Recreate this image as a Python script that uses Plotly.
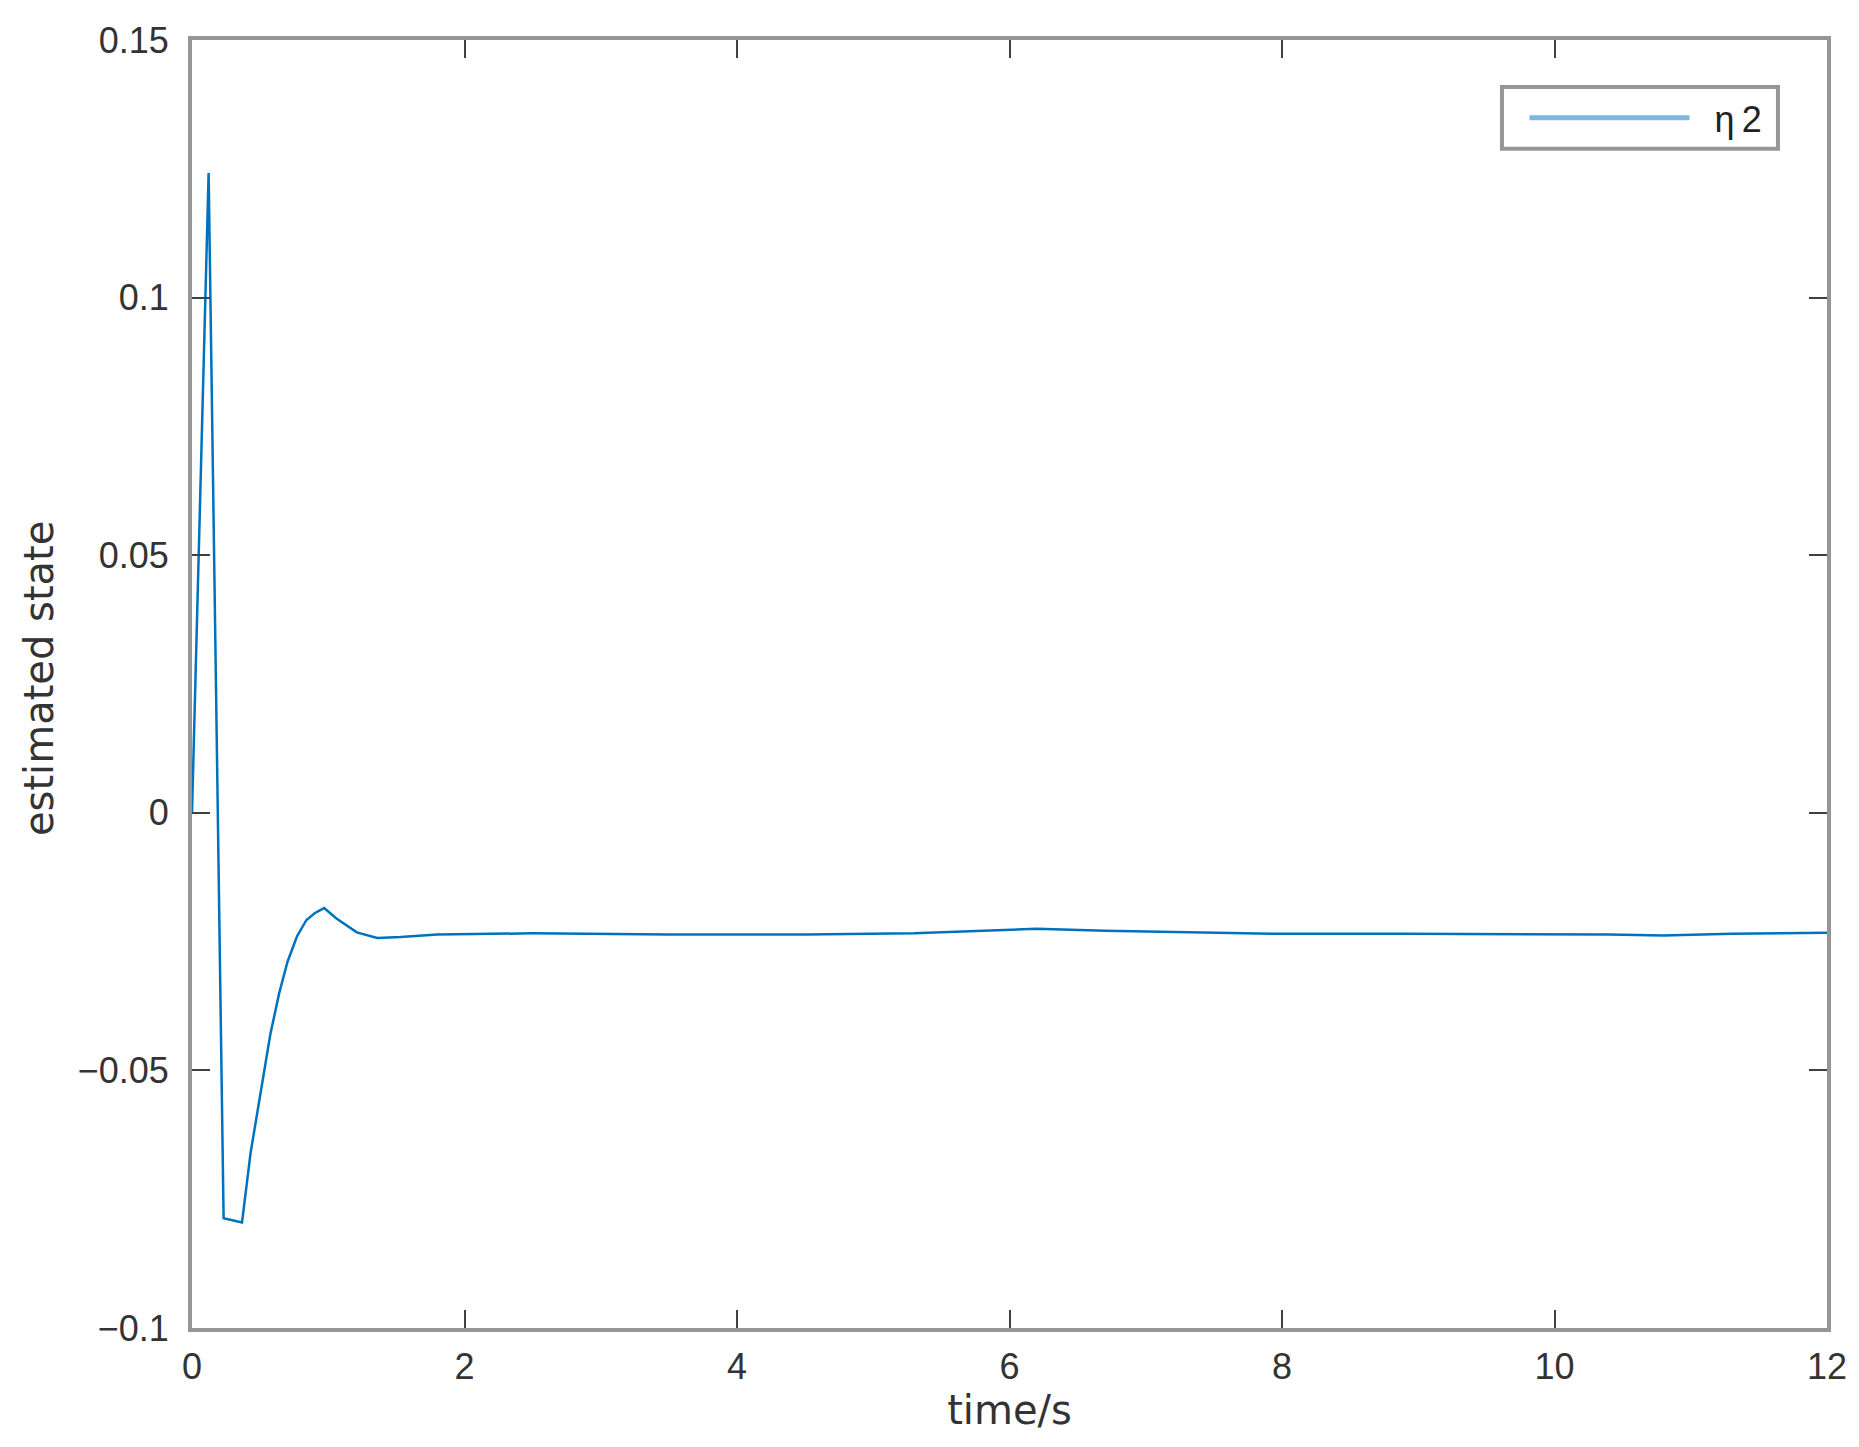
import plotly.graph_objects as go

# estimated state eta2
time_s = [0, 0.122, 0.232, 0.367, 0.43, 0.50, 0.575, 0.64, 0.70, 0.77, 0.84, 0.90,
          0.97, 1.06, 1.21, 1.36, 1.53, 1.8, 2.5, 3.5, 4.5, 5.3, 5.8, 6.2, 6.7,
          7.4, 8.0, 8.9, 9.8, 10.4, 10.8, 11.3, 12.0]
eta2 = [0, 0.1242, -0.0787, -0.0795, -0.066, -0.055, -0.043, -0.035, -0.029, -0.024,
        -0.0208, -0.0195, -0.0185, -0.0205, -0.0232, -0.0243, -0.0241, -0.0236,
        -0.0234, -0.0236, -0.0236, -0.0234, -0.0229, -0.0225, -0.0229, -0.0232,
        -0.0235, -0.0235, -0.0235, -0.0236, -0.0238, -0.0235, -0.0233]

x_ticks = [0, 2, 4, 6, 8, 10, 12]
y_ticks = [-0.1, -0.05, 0, 0.05, 0.1, 0.15]
y_labels = ["\u22120.1", "\u22120.05", "0", "0.05", "0.1", "0.15"]

line_blue = "#0072BD"
frame_grey = "#969696"
font = "Liberation Sans, Arial, sans-serif"
title_font = "DejaVu Sans, sans-serif"

fig = go.Figure()
fig.add_trace(go.Scatter(x=time_s, y=eta2, mode="lines", showlegend=False,
                         line=dict(color=line_blue, width=2.5)))
# legend entry (sample appears lighter in the reference)
fig.add_trace(go.Scatter(x=[None], y=[None], mode="lines",
                         name="\u00a0\u00a0\u03b7\u20092",
                         line=dict(color="#7DB7E0", width=5)))

axis_common = dict(
    showline=True, linecolor=frame_grey, linewidth=4, mirror="ticks",
    ticks="inside", ticklen=18, tickwidth=2, tickcolor="#404040",
    showgrid=False, zeroline=False,
    tickfont=dict(family=font, size=36, color="#333333"),
)

fig.update_layout(
    width=1851, height=1439,
    margin=dict(l=184, r=32, t=28, b=119),
    plot_bgcolor="white", paper_bgcolor="white",
    font=dict(family=font, size=36, color="#333333"),
    xaxis=dict(range=[0, 12], tickvals=x_ticks,
               title=dict(text="time/s", standoff=10,
                          font=dict(family=title_font, size=40, color="#333333")),
               ticklabelstandoff=4, **axis_common),
    yaxis=dict(range=[-0.1, 0.15], tickvals=y_ticks, ticktext=y_labels,
               ticklabelstandoff=12, **axis_common),
    legend=dict(x=0.815, y=0.9396, xanchor="left", yanchor="middle",
                bgcolor="rgba(0,0,0,0)", borderwidth=0,
                font=dict(family=font, size=36, color="#222222"),
                itemwidth=160),
    shapes=[dict(type="rect", xref="paper", yref="paper",
                 x0=0.8012, x1=0.970, y0=0.9156, y1=0.9636,
                 line=dict(color=frame_grey, width=4), fillcolor="white",
                 layer="below")],
    annotations=[dict(text="estimated state", textangle=-90, showarrow=False,
                      xref="paper", yref="paper", x=-0.0936, y=0.5046,
                      xanchor="center", yanchor="middle",
                      font=dict(family=title_font, size=40, color="#333333"))],
)

fig.write_html("out.html")
